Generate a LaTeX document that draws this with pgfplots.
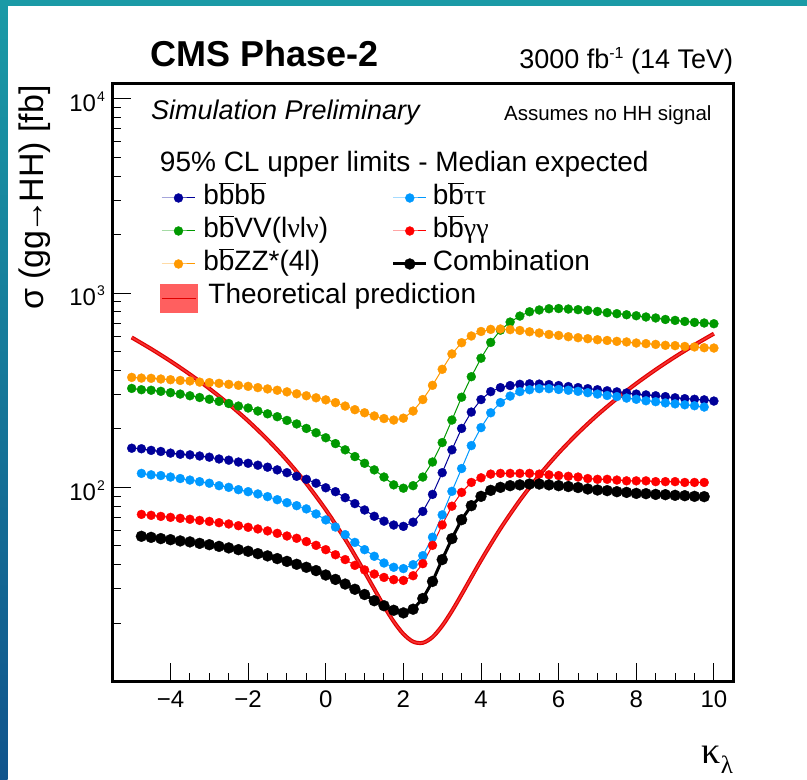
\documentclass[border=0pt]{standalone}
\usepackage{fontspec}
\setmainfont{Liberation Sans}
\newfontfamily\serifgreek{Liberation Serif}
\usepackage{pgfplots}
\pgfplotsset{compat=1.18}
\definecolor{cdblue}{RGB}{0,0,153}
\definecolor{clblue}{RGB}{0,153,255}
\definecolor{cgreen}{RGB}{0,153,0}
\definecolor{cred}{RGB}{255,0,0}
\definecolor{corange}{RGB}{255,153,0}
\definecolor{cband}{RGB}{225,0,0}
\definecolor{cbandin}{RGB}{245,50,50}
\definecolor{cbox}{RGB}{255,95,95}
\definecolor{cteal}{RGB}{26,154,166}
\definecolor{cnavy}{RGB}{16,84,140}
\newcommand{\bbar}{\ensuremath{\overline{\mbox{b}}}}
\newcommand{\gr}[1]{{\serifgreek #1}}
\begin{document}
\begin{tikzpicture}
\fill[white] (0pt,0pt) rectangle (807pt,780pt);
\useasboundingbox (0pt,0pt) rectangle (807pt,780pt);
\shade[top color=cteal, bottom color=cnavy] (0pt,0pt) rectangle (7.5pt,780pt);
\fill[cteal] (0pt,774pt) rectangle (807pt,780pt);
\begin{axis}[
  at={(112.3pt,98.3pt)}, anchor=south west,
  scale only axis, width=621pt, height=598.4pt,
  xmin=-5.5, xmax=10.5, ymode=log, ymin=10, ymax=12000,
  axis line style={line width=2.5pt, black},
  tick align=inside, tick pos=left,
  major tick length=18.5pt, minor tick length=9pt,
  tick style={line width=1pt, black},
  xtick={-4,-2,0,2,4,6,8,10},
  xticklabels={−4,−2,0,2,4,6,8,10},
  minor x tick num=3,
  ytick={100,1000,10000},
  yticklabels={10\kern1pt\raisebox{10pt}{\fontsize{14}{14}\selectfont 2},10\kern1pt\raisebox{10pt}{\fontsize{14}{14}\selectfont 3},10\kern1pt\raisebox{10pt}{\fontsize{14}{14}\selectfont 4}},
  minor ytick={20,30,40,50,60,70,80,90,200,300,400,500,600,700,800,900,2000,3000,4000,5000,6000,7000,8000,9000},
  xticklabel style={font=\fontsize{24}{28}\selectfont, anchor=base, yshift=-25.6pt, inner sep=0pt},
  yticklabel style={font=\fontsize{24}{28}\selectfont, anchor=base east, xshift=-7.3pt, yshift=-12.7pt, inner sep=0pt},
  legend columns=2,
  legend style={at={(0.0768,0.8924)}, anchor=north west, draw=none, fill=none,
    inner sep=0pt, outer sep=0pt, row sep=0pt, column sep=0pt,
    font=\fontsize{28}{32}\selectfont, cells={anchor=base west},
    nodes={inner sep=0pt, text height=24pt, text depth=9pt}},
  legend image code/.code={\draw[mark repeat=2,mark phase=2,#1] plot coordinates {(0pt,6.7pt) (16.5pt,6.7pt) (33pt,6.7pt)};},
]
\addlegendimage{empty legend}
\addlegendentry{\makebox[0pt][l]{\hspace*{-38.5pt}95\% CL upper limits - Median expected}}
\addlegendimage{empty legend}
\addlegendentry{}
% bbbb
\addplot[color=cdblue, line width=1pt, mark=*, mark size=4.5pt, mark options={line width=0.3pt}] coordinates {
(-5,159)(-4.75,158)(-4.5,155)(-4.25,153)(-4,150)(-3.75,148)(-3.5,147)(-3.25,145)(-3,143)(-2.75,140)(-2.5,138)(-2.25,135)(-2,133)(-1.75,130)(-1.5,127)(-1.25,123)(-1,119)(-0.75,114)(-0.5,110)(-0.25,105)(0,99.5)(0.25,95)(0.5,88.5)(0.75,82.5)(1,76.5)(1.25,71)(1.5,67)(1.75,64)(2,63)(2.25,66.2)(2.5,75.2)(2.75,92)(3,119)(3.25,156)(3.5,201)(3.75,244)(4,283)(4.25,311)(4.5,326)(4.75,334)(5,339)(5.25,341)(5.5,340)(5.75,338)(6,334)(6.25,330)(6.5,326)(6.75,322)(7,318)(7.25,314)(7.5,310)(7.75,306)(8,302)(8.25,299)(8.5,296)(8.75,293)(9,289)(9.25,286)(9.5,284)(9.75,282)(10,278)};
\addlegendentry{\makebox[193.8pt][l]{\hspace*{5.3pt}b\bbar b\bbar}}
% bbtautau
\addplot[color=clblue, line width=1pt, mark=*, mark size=4.5pt, mark options={line width=0.3pt}] coordinates {
(-4.75,118)(-4.5,116)(-4.25,115)(-4,113)(-3.75,111)(-3.5,109)(-3.25,107)(-3,105)(-2.75,102)(-2.5,100)(-2.25,97.3)(-2,95)(-1.75,92.5)(-1.5,89.6)(-1.25,86.4)(-1,83.4)(-0.75,80.5)(-0.5,77.5)(-0.25,73)(0,68)(0.25,62.5)(0.5,57.1)(0.75,52.1)(1,47.8)(1.25,44.2)(1.5,40.8)(1.75,38.8)(2,38.2)(2.25,40)(2.5,44.5)(2.75,55.4)(3,72.2)(3.25,95.4)(3.5,125)(3.75,164)(4,203)(4.25,242)(4.5,273)(4.75,295)(5,311)(5.25,318)(5.5,322)(5.75,322)(6,319)(6.25,316)(6.5,312)(6.75,307)(7,302)(7.25,297)(7.5,293)(7.75,288)(8,284)(8.25,279)(8.5,276)(8.75,272)(9,269)(9.25,266)(9.5,263)(9.75,259)};
\addlegendentry{\hspace*{5pt}b\bbar\gr{ττ}}
% bbVV
\addplot[color=cgreen, line width=1pt, mark=*, mark size=4.5pt, mark options={line width=0.3pt}] coordinates {
(-5,323)(-4.75,318)(-4.5,316)(-4.25,312)(-4,307)(-3.75,302)(-3.5,296)(-3.25,290)(-3,284)(-2.75,277)(-2.5,270)(-2.25,262)(-2,256)(-1.75,247)(-1.5,239)(-1.25,231)(-1,221)(-0.75,212)(-0.5,201)(-0.25,191)(0,180)(0.25,168)(0.5,156)(0.75,144)(1,133)(1.25,123)(1.5,113)(1.75,103)(2,99)(2.25,102)(2.5,113)(2.75,135)(3,170)(3.25,222)(3.5,291)(3.75,371)(4,462)(4.25,557)(4.5,644)(4.75,709)(5,761)(5.25,801)(5.5,818)(5.75,830)(6,832)(6.25,827)(6.5,821)(6.75,814)(7,804)(7.25,792)(7.5,783)(7.75,773)(8,764)(8.25,753)(8.5,744)(8.75,731)(9,723)(9.25,714)(9.5,706)(9.75,701)(10,695)};
\addlegendentry{\makebox[193.8pt][l]{\hspace*{5.3pt}b\bbar VV(l\gr{ν}l\gr{ν})}}
% bbgammagamma
\addplot[color=cred, line width=1pt, mark=*, mark size=4.5pt, mark options={line width=0.3pt}] coordinates {
(-4.75,72.6)(-4.5,71.8)(-4.25,70.9)(-4,70.1)(-3.75,69.3)(-3.5,68.5)(-3.25,67.6)(-3,66.8)(-2.75,65.8)(-2.5,64.8)(-2.25,63.5)(-2,62.3)(-1.75,61.1)(-1.5,59.7)(-1.25,58)(-1,56.2)(-0.75,54.7)(-0.5,52.6)(-0.25,50.3)(0,47.8)(0.25,45)(0.5,42.5)(0.75,39.7)(1,37.6)(1.25,35.8)(1.5,34.4)(1.75,33.5)(2,33.2)(2.25,35.1)(2.5,40.5)(2.75,50.3)(3,64.1)(3.25,80)(3.5,94.2)(3.75,106)(4,112)(4.25,117)(4.5,118)(4.75,118)(5,118)(5.25,118)(5.5,117)(5.75,116)(6,115)(6.25,114)(6.5,113)(6.75,111)(7,110)(7.25,110)(7.5,109)(7.75,108)(8,108)(8.25,108)(8.5,107)(8.75,107)(9,107)(9.25,106)(9.5,106)(9.75,106)};
\addlegendentry{\hspace*{5pt}b\bbar\gr{γγ}}
% bbZZ
\addplot[color=corange, line width=1pt, mark=*, mark size=4.5pt, mark options={line width=0.3pt}] coordinates {
(-5,368)(-4.75,365)(-4.5,364)(-4.25,361)(-4,358)(-3.75,355)(-3.5,353)(-3.25,348)(-3,346)(-2.75,343)(-2.5,339)(-2.25,335)(-2,331)(-1.75,326)(-1.5,321)(-1.25,316)(-1,310)(-0.75,303)(-0.5,296)(-0.25,289)(0,282)(0.25,273)(0.5,262)(0.75,251)(1,242)(1.25,233)(1.5,226)(1.75,222)(2,227)(2.25,247)(2.5,283)(2.75,335)(3,405)(3.25,486)(3.5,555)(3.75,601)(4,634)(4.25,650)(4.5,653)(4.75,648)(5,642)(5.25,632)(5.5,623)(5.75,612)(6,605)(6.25,596)(6.5,589)(6.75,582)(7,575)(7.25,570)(7.5,564)(7.75,560)(8,553)(8.25,549)(8.5,544)(8.75,538)(9,536)(9.25,531)(9.5,528)(9.75,523)(10,521)};
\addlegendentry{\makebox[193.8pt][l]{\hspace*{5.3pt}b\bbar ZZ*(4l)}}
% combination
\addplot[color=black, line width=3pt, mark=*, mark size=5.5pt, mark options={line width=0.3pt}] coordinates {
(-4.75,56)(-4.5,55.3)(-4.25,54.5)(-4,53.8)(-3.75,53)(-3.5,52.4)(-3.25,51.5)(-3,50.7)(-2.75,49.7)(-2.5,48.8)(-2.25,47.8)(-2,46.9)(-1.75,45.6)(-1.5,44.4)(-1.25,43)(-1,41.6)(-0.75,40.2)(-0.5,38.8)(-0.25,37.3)(0,35.4)(0.25,33.6)(0.5,31.8)(0.75,29.9)(1,28.1)(1.25,26.1)(1.5,24.6)(1.75,23.3)(2,22.6)(2.25,23.6)(2.5,26.8)(2.75,32.8)(3,42.5)(3.25,54.5)(3.5,68.2)(3.75,80.5)(4,89.9)(4.25,96.5)(4.5,100)(4.75,102)(5,103)(5.25,104)(5.5,104)(5.75,103)(6,102)(6.25,101)(6.5,99.8)(6.75,98.1)(7,96.9)(7.25,96.2)(7.5,95)(7.75,94.2)(8,93.1)(8.25,92.8)(8.5,92)(8.75,91.7)(9,91)(9.25,90.6)(9.5,89.9)(9.75,89.6)};
\addlegendentry{\hspace*{5pt}Combination}
% theory band
\addplot[smooth, draw=cband, line width=4pt, no markers,
  legend image code/.code={\fill[cbox] (0pt,-7.3pt) rectangle (34pt,17.7pt);
    \draw[cband, line width=1.2pt] (0pt,5.3pt) -- (34pt,5.3pt);}] coordinates {
(-5,590.7)(-4.5,515.8)(-4,446.1)(-3.5,381.6)(-3,322.4)(-2.5,268.4)(-2,219.6)(-1.5,176.0)(-1,137.7)(-0.5,104.6)(0,76.7)(0.5,54.1)(0.75,44.7)(1,36.7)(1.25,29.96)(1.5,24.5)(1.75,20.4)(2,17.6)(2.25,16.07)(2.5,15.85)(2.75,16.96)(3,19.4)(3.25,23.1)(3.5,28.1)(4,42.1)(4.5,61.3)(5,85.7)(5.5,115.4)(6,150.3)(6.5,190.4)(7,235.8)(7.5,286.3)(8,342.2)(8.5,403.2)(9,469.5)(9.5,541.0)(10,617.7)};
\addlegendentry{\makebox[0pt][l]{\hspace*{10pt}Theoretical prediction}}
\addplot[smooth, draw=cbandin, line width=1.6pt, no markers, forget plot] coordinates {
(-5,590.7)(-4.5,515.8)(-4,446.1)(-3.5,381.6)(-3,322.4)(-2.5,268.4)(-2,219.6)(-1.5,176.0)(-1,137.7)(-0.5,104.6)(0,76.7)(0.5,54.1)(0.75,44.7)(1,36.7)(1.25,29.96)(1.5,24.5)(1.75,20.4)(2,17.6)(2.25,16.07)(2.5,15.85)(2.75,16.96)(3,19.4)(3.25,23.1)(3.5,28.1)(4,42.1)(4.5,61.3)(5,85.7)(5.5,115.4)(6,150.3)(6.5,190.4)(7,235.8)(7.5,286.3)(8,342.2)(8.5,403.2)(9,469.5)(9.5,541.0)(10,617.7)};
\end{axis}
\node[anchor=base west, inner sep=0pt, font=\fontsize{36}{40}\selectfont\bfseries] at (150.7pt,713.3pt) {CMS Phase-2};
\node[anchor=base east, inner sep=0pt, font=\fontsize{27}{30}\selectfont] at (733.3pt,711.7pt) {3000 fb\raisebox{10pt}{\fontsize{16}{16}\selectfont -1} (14 TeV)};
\node[anchor=base west, inner sep=0pt, font=\fontsize{27}{30}\selectfont\itshape] at (151pt,660pt) {Simulation Preliminary};
\node[anchor=base east, inner sep=0pt, font=\fontsize{20.5}{24}\selectfont] at (711.7pt,659.3pt) {Assumes no HH signal};
\node[rotate=90, anchor=base east, inner sep=0pt, font=\fontsize{34}{40}\selectfont] at (43.5pt,695pt) {σ (gg\kern-3pt→\kern-3pt HH) [fb]};
\node[anchor=base east, inner sep=0pt] at (733.3pt,16.7pt) {\fontsize{38}{40}\selectfont\serifgreek κ\raisebox{-10pt}{\fontsize{25}{25}\selectfont λ}};
\end{tikzpicture}
\end{document}
